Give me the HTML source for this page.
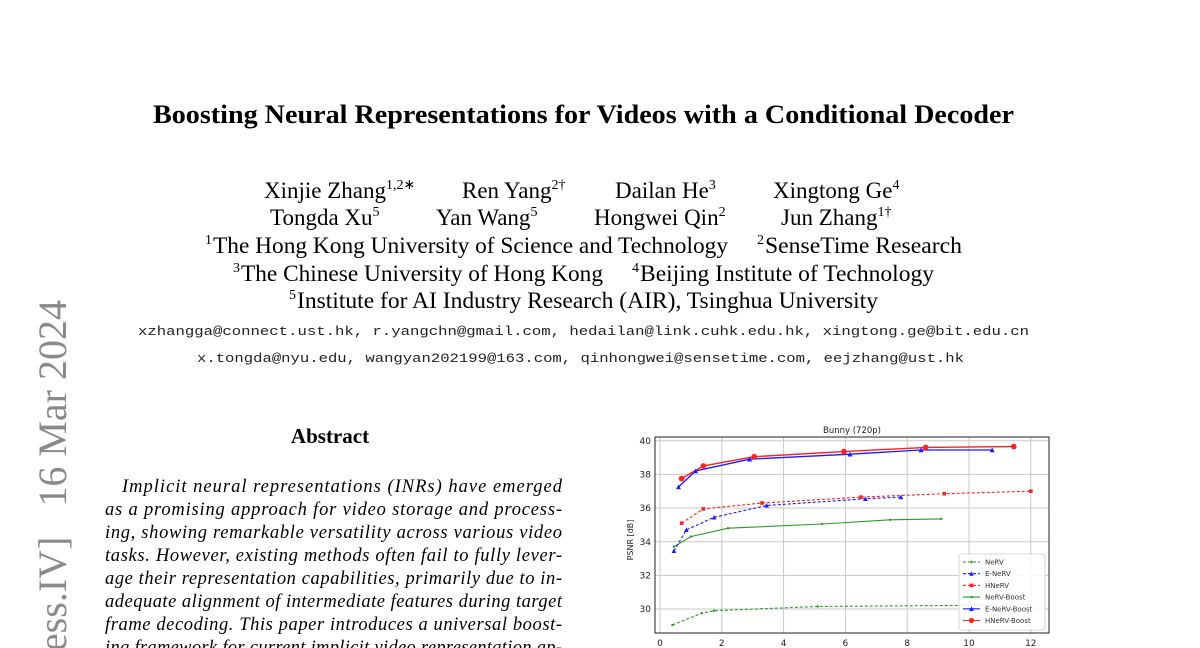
<!DOCTYPE html>
<html><head><meta charset="utf-8"><style>
html,body{margin:0;padding:0;background:#fff;width:1200px;height:648px;overflow:hidden;}
svg{display:block;}
</style></head><body>
<svg width="1200" height="648" viewBox="0 0 1200 648" xmlns="http://www.w3.org/2000/svg">
<rect width="1200" height="648" fill="#fff"/>
<g font-family="'Liberation Serif', serif" fill="#000">
<text x="153" y="123" font-size="26" font-weight="bold" textLength="861" lengthAdjust="spacingAndGlyphs">Boosting Neural Representations for Videos with a Conditional Decoder</text>
<g font-size="23">
<text x="264" y="198">Xinjie Zhang<tspan font-size="14" dy="-9">1,2∗</tspan></text>
<text x="462" y="198">Ren Yang<tspan font-size="14" dy="-9">2†</tspan></text>
<text x="615" y="198">Dailan He<tspan font-size="14" dy="-9">3</tspan></text>
<text x="773" y="198">Xingtong Ge<tspan font-size="14" dy="-9">4</tspan></text>
<text x="270" y="225">Tongda Xu<tspan font-size="14" dy="-9">5</tspan></text>
<text x="436" y="225">Yan Wang<tspan font-size="14" dy="-9">5</tspan></text>
<text x="594" y="225">Hongwei Qin<tspan font-size="14" dy="-9">2</tspan></text>
<text x="781" y="225">Jun Zhang<tspan font-size="14" dy="-9">1†</tspan></text>
<text x="205" y="244" font-size="14">1</text>
<text x="213" y="253" textLength="515" lengthAdjust="spacingAndGlyphs">The Hong Kong University of Science and Technology</text>
<text x="757" y="244" font-size="14">2</text>
<text x="765" y="253" textLength="197" lengthAdjust="spacingAndGlyphs">SenseTime Research</text>
<text x="233" y="272" font-size="14">3</text>
<text x="241" y="281" textLength="362" lengthAdjust="spacingAndGlyphs">The Chinese University of Hong Kong</text>
<text x="632" y="272" font-size="14">4</text>
<text x="640" y="281" textLength="294" lengthAdjust="spacingAndGlyphs">Beijing Institute of Technology</text>
<text x="289" y="299" font-size="14">5</text>
<text x="297" y="308" textLength="581" lengthAdjust="spacingAndGlyphs">Institute for AI Industry Research (AIR), Tsinghua University</text>
</g>
<g font-family="'Liberation Mono', monospace" font-size="13" fill="#222">
<text x="138" y="335" textLength="891" lengthAdjust="spacingAndGlyphs">xzhangga@connect.ust.hk, r.yangchn@gmail.com, hedailan@link.cuhk.edu.hk, xingtong.ge@bit.edu.cn</text>
<text x="197" y="362" textLength="767" lengthAdjust="spacingAndGlyphs">x.tongda@nyu.edu, wangyan202199@163.com, qinhongwei@sensetime.com, eejzhang@ust.hk</text>
</g>
<text x="330" y="443" font-size="21" font-weight="bold" text-anchor="middle">Abstract</text>
<g font-size="18.5" font-style="italic">
<text x="122" y="492" textLength="440" lengthAdjust="spacing">Implicit neural representations (INRs) have emerged</text>
<text x="105" y="515" textLength="457" lengthAdjust="spacing">as a promising approach for video storage and process-</text>
<text x="105" y="538" textLength="457" lengthAdjust="spacing">ing, showing remarkable versatility across various video</text>
<text x="105" y="561" textLength="457" lengthAdjust="spacing">tasks. However, existing methods often fail to fully lever-</text>
<text x="105" y="584" textLength="457" lengthAdjust="spacing">age their representation capabilities, primarily due to in-</text>
<text x="105" y="607" textLength="457" lengthAdjust="spacing">adequate alignment of intermediate features during target</text>
<text x="105" y="630" textLength="457" lengthAdjust="spacing">frame decoding. This paper introduces a universal boost-</text>
<text x="105" y="653" textLength="457" lengthAdjust="spacing">ing framework for current implicit video representation ap-</text>
</g>
<text transform="translate(66,300) rotate(-90)" font-size="40" fill="#8a8a8a" text-anchor="end" xml:space="preserve">arXiv:2402.18152v2  [eess.IV]   16 Mar 2024</text>
</g>

<g font-family="'DejaVu Sans', 'Liberation Sans', sans-serif">
<text x="852" y="433" font-size="8.5" text-anchor="middle" fill="#222">Bunny (720p)</text>
<rect x="655" y="437" width="394" height="196" fill="#fff"/>
<g stroke="#c8c8c8" stroke-width="1">
<line x1="660" y1="437" x2="660" y2="633"/><line x1="721.8" y1="437" x2="721.8" y2="633"/>
<line x1="783.6" y1="437" x2="783.6" y2="633"/><line x1="845.4" y1="437" x2="845.4" y2="633"/>
<line x1="907.2" y1="437" x2="907.2" y2="633"/><line x1="969" y1="437" x2="969" y2="633"/>
<line x1="1030.8" y1="437" x2="1030.8" y2="633"/>
<line x1="655" y1="440.7" x2="1049" y2="440.7"/><line x1="655" y1="474.4" x2="1049" y2="474.4"/>
<line x1="655" y1="508" x2="1049" y2="508"/><line x1="655" y1="541.7" x2="1049" y2="541.7"/>
<line x1="655" y1="575.4" x2="1049" y2="575.4"/><line x1="655" y1="609" x2="1049" y2="609"/>
</g>
<rect x="655" y="437" width="394" height="196" fill="none" stroke="#222" stroke-width="1"/>
<g font-size="9" fill="#222" text-anchor="middle">
<text x="660" y="646">0</text><text x="721.8" y="646">2</text><text x="783.6" y="646">4</text>
<text x="845.4" y="646">6</text><text x="907.2" y="646">8</text><text x="969" y="646">10</text><text x="1030.8" y="646">12</text>
</g>
<g font-size="9" fill="#222" text-anchor="end">
<text x="651" y="444">40</text><text x="651" y="477.5">38</text><text x="651" y="511">36</text>
<text x="651" y="545">34</text><text x="651" y="578.5">32</text><text x="651" y="612">30</text>
</g>
<text transform="translate(633,540) rotate(-90)" font-size="8" fill="#222" text-anchor="middle">PSNR [dB]</text>

<g fill="none" stroke-width="1.1">
<polyline stroke="#2a9a2a" stroke-dasharray="3,2" points="672.4,625 701.7,613.2 714.1,610.7 817.6,606.5 938.1,605.6 1030.8,604.8"/>
<polyline stroke="#2a9a2a" points="673.9,546.7 690.9,536.6 728,528.2 822.2,524 890.2,519.8 941.2,518.9"/>
<polyline stroke="#1a1aff" stroke-dasharray="3,2" points="673.9,551 686.3,529.9 714.1,517.3 766.6,505.5 865.5,498.8 901,497.1"/>
<polyline stroke="#ff2020" stroke-dasharray="3,2" points="681.6,523.2 703.3,508.9 762,503 860.9,497.1 944.3,493.7 1030.8,491.2"/>
<polyline stroke="#1a1aff" stroke-width="1.3" points="678.5,487 695.5,471 749.6,459.2 850,454.2 921.1,450 992.2,450"/>
<polyline stroke="#ff2020" stroke-width="1.4" points="681.6,478.6 703.3,465.9 754.2,456.7 843.9,451.6 925.7,447.4 1013.8,446.6"/>
</g>
<g fill="#2a9a2a">
<circle cx="672.4" cy="625" r="1.2"/><circle cx="701.7" cy="613.2" r="1.2"/><circle cx="714.1" cy="610.7" r="1.2"/><circle cx="817.6" cy="606.5" r="1.2"/>
<circle cx="673.9" cy="546.7" r="1.2"/><circle cx="690.9" cy="536.6" r="1.2"/><circle cx="728" cy="528.2" r="1.2"/><circle cx="822.2" cy="524" r="1.2"/><circle cx="890.2" cy="519.8" r="1.2"/><circle cx="941.2" cy="518.9" r="1.2"/>
</g>
<g fill="#1a1aff">
<polygon points="673.9,548.5 676.2,553 671.6,553"/><polygon points="686.3,527.5 688.6,532 684,532"/><polygon points="714.1,515 716.4,519.5 711.8,519.5"/><polygon points="766.6,503 768.9,507.5 764.3,507.5"/><polygon points="865.5,496.5 867.8,501 863.2,501"/><polygon points="901,494.8 903.3,499.3 898.7,499.3"/>
<polygon points="678.5,484.5 681,489.3 676,489.3"/><polygon points="695.5,468.5 698,473.3 693,473.3"/><polygon points="749.6,456.7 752.1,461.5 747.1,461.5"/><polygon points="850,451.7 852.5,456.5 847.5,456.5"/><polygon points="921.1,447.5 923.6,452.3 918.6,452.3"/><polygon points="992.2,447.5 994.7,452.3 989.7,452.3"/>
</g>
<g fill="#ff2020">
<rect x="679.8" y="521.4" width="3.6" height="3.6"/><rect x="701.5" y="507.1" width="3.6" height="3.6"/><rect x="760.2" y="501.2" width="3.6" height="3.6"/><rect x="859.1" y="495.3" width="3.6" height="3.6"/><rect x="942.5" y="491.9" width="3.6" height="3.6"/><rect x="1029" y="489.4" width="3.6" height="3.6"/>
<circle cx="681.6" cy="478.6" r="2.8"/><circle cx="703.3" cy="465.9" r="2.8"/><circle cx="754.2" cy="456.7" r="2.8"/><circle cx="843.9" cy="451.6" r="2.8"/><circle cx="925.7" cy="447.4" r="2.8"/><circle cx="1013.8" cy="446.6" r="2.8"/>
</g>

<rect x="959" y="554" width="86" height="76" fill="#fff" fill-opacity="0.85" stroke="#ccc" stroke-width="0.8" rx="2"/>
<g stroke-width="1.1" fill="none">
<line x1="963" y1="562" x2="980" y2="562" stroke="#2a9a2a" stroke-dasharray="3,2"/>
<line x1="963" y1="573.7" x2="980" y2="573.7" stroke="#1a1aff" stroke-dasharray="3,2"/>
<line x1="963" y1="585.4" x2="980" y2="585.4" stroke="#ff2020" stroke-dasharray="3,2"/>
<line x1="963" y1="597.1" x2="980" y2="597.1" stroke="#2a9a2a"/>
<line x1="963" y1="608.8" x2="980" y2="608.8" stroke="#1a1aff"/>
<line x1="963" y1="620.5" x2="980" y2="620.5" stroke="#ff2020"/>
</g>
<circle cx="971.5" cy="562" r="1.2" fill="#2a9a2a"/>
<polygon points="971.5,571.5 973.7,575.7 969.3,575.7" fill="#1a1aff"/>
<rect x="969.7" y="583.6" width="3.6" height="3.6" fill="#ff2020"/>
<circle cx="971.5" cy="597.1" r="1.2" fill="#2a9a2a"/>
<polygon points="971.5,606.4 973.9,611 969.1,611" fill="#1a1aff"/>
<circle cx="971.5" cy="620.5" r="2.6" fill="#ff2020"/>
<g font-size="7" fill="#333">
<text x="985" y="564.5">NeRV</text><text x="985" y="576.2">E-NeRV</text><text x="985" y="587.9">HNeRV</text>
<text x="985" y="599.6">NeRV-Boost</text><text x="985" y="611.3">E-NeRV-Boost</text><text x="985" y="623">HNeRV-Boost</text>
</g>
</g>
</svg>
</body></html>
